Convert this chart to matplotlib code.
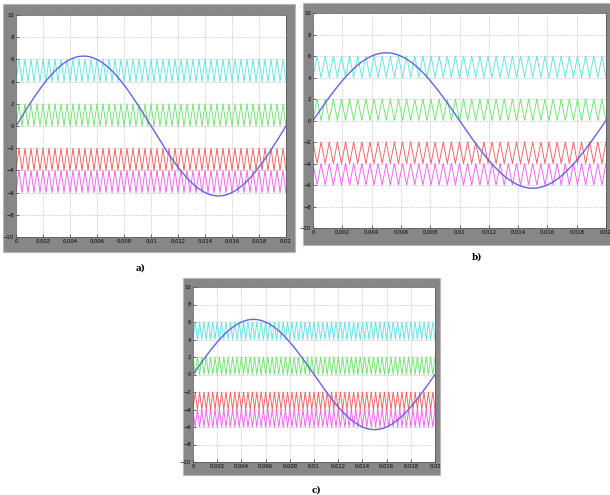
import numpy as np
import matplotlib
matplotlib.use("Agg")
import matplotlib.pyplot as plt
from matplotlib.patches import Rectangle

# reference signal
sine_amplitude = 6.3
sine_freq = 50.0          # Hz
t_end = 0.02

# carrier bands: (lower, upper, colour)
band_low = [4, 0, -4, -6]
band_high = [6, 2, -2, -4]
band_colors = ["#5fe3e3", "#6ee46e", "#f06060", "#f060f0"]

# per-panel carrier settings
panel_labels = ["a)", "b)", "c)"]
carrier_cycles = [45, 36, 55]
carrier_phase = [[0, 0, 0, 0],      # PD
                 [0, 0, 1, 1],      # POD
                 [0, 1, 0, 1]]      # APOD

x_ticks = [0, 0.002, 0.004, 0.006, 0.008, 0.01, 0.012, 0.014, 0.016, 0.018, 0.02]
x_tick_labels = ["0", "0.002", "0.004", "0.006", "0.008", "0.01", "0.012", "0.014",
                 "0.016", "0.018", "0.02"]
y_ticks = [-10, -8, -6, -4, -2, 0, 2, 4, 6, 8, 10]

W, H = 610, 495

def px_rect(l, t, r, b):
    return [l / W, 1 - b / H, (r - l) / W, (b - t) / H]

axes_px = [(16, 15, 286, 237), (313, 13, 606, 228), (193, 287, 435, 462)]
frame_px = [(3, 4, 295, 252), (303, 3, 612, 245), (183, 278, 440, 475)]
label_px = [(141, 268), (477, 257), (317, 490)]

fig = plt.figure(figsize=(6.1, 4.95), dpi=100)
fig.patch.set_facecolor("white")

t = np.linspace(0, t_end, 2000)
sine = sine_amplitude * np.sin(2 * np.pi * sine_freq * t)

for k in range(3):
    fr = px_rect(*frame_px[k])
    fig.patches.append(Rectangle((fr[0], fr[1]), fr[2], fr[3], transform=fig.transFigure,
                                 facecolor="#878787", edgecolor="#b8b8b8", lw=0.8,
                                 zorder=-5))
    ax = fig.add_axes(px_rect(*axes_px[k]))
    ax.set_zorder(2)
    ax.set_facecolor("white")

    n = carrier_cycles[k]
    tv = np.linspace(0, t_end, 2 * n + 1)
    for j in range(4):
        lo, hi = band_low[j], band_high[j]
        ph = carrier_phase[k][j]
        yv = np.where((np.arange(2 * n + 1) + ph) % 2 == 0, lo, hi)
        ax.plot(tv, yv, color=band_colors[j], lw=0.65)

    ax.plot(t, sine, color="#6464e0", lw=1.0)

    ax.set_xlim(0, t_end)
    ax.set_ylim(-10, 10)
    ax.set_xticks(x_ticks)
    ax.set_xticklabels(x_tick_labels)
    ax.set_yticks(y_ticks)
    ax.tick_params(direction="in", length=2, width=0.4, labelsize=3.8, pad=1.5,
                   colors="black")
    ax.grid(True, color="#a8a8a8", linestyle=(0, (1, 1.5)), lw=0.5)
    for s in ax.spines.values():
        s.set_linewidth(0.5)
        s.set_color("#555555")

    lx, ly = label_px[k]
    fig.text(lx / W, 1 - ly / H, panel_labels[k], ha="center", va="center",
             fontsize=6.5, fontweight="bold", family="DejaVu Serif")

fig.savefig("out.png", dpi=100)
